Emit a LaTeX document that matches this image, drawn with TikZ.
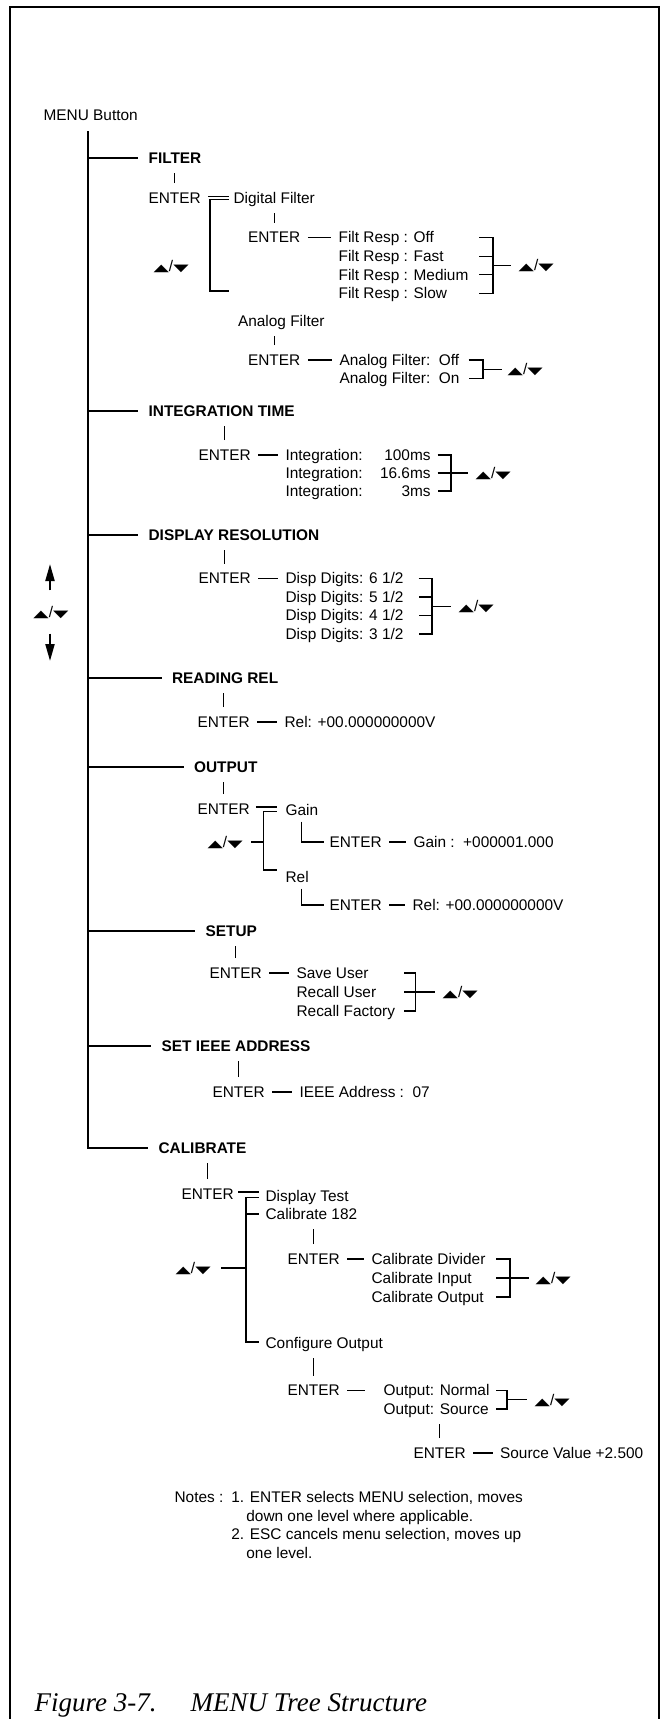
\documentclass[tikz,border=0pt]{standalone}
\usepackage{fontspec}
\setmainfont{Liberation Sans}
\newfontfamily\symfont{DejaVu Sans}
\newfontfamily\capfont{Liberation Serif}
\usepackage{graphicx}
\usetikzlibrary{arrows.meta, positioning, calc}
\newcommand{\updn}{{\symfont\scalebox{1.3}[0.65]{▲}}/{\symfont\scalebox{1.3}[0.65]{▼}}}

\begin{document}
\begin{tikzpicture}[x=1pt, y=-1pt, line width=1.2pt,
  item/.style={anchor=west, inner sep=0pt, text height=10.8pt, text depth=0pt, font=\fontsize{15.4}{18.7}\selectfont},
  menuhead/.style={item, font=\fontsize{15.4}{18.7}\selectfont\bfseries},
  notes/.style={anchor=base west, inner sep=0pt, font=\fontsize{15.4}{18.7}\selectfont},
  capt/.style={anchor=base west, inner sep=0pt, font=\capfont\itshape\fontsize{27}{30}\selectfont},
  vtick/.style={shorten <=9pt, shorten >=9pt},
  link/.style={shorten <=7pt, shorten >=7pt},
  border/.style={line width=2pt},
  updown/.style={-{Triangle[length=17pt, width=9pt]}, line width=2pt}
]
  \useasboundingbox (0,0) rectangle (665,1719);
  \draw[border] (10,1725) |- (659,7) -- (659,1725);

  \node[item] (menu) at (43,115) {MENU Button};
  \coordinate (trunk) at (88,131);

  \node[menuhead] (filt) at (148,158) {FILTER};
  \node[item] (e1) at (148,198) {ENTER};
  \node[item] (dfilt) at (233,198) {Digital Filter};
  \node[item] (ud1) at (153,266) {\updn};
  \node[item] (e2) at (247.5,237.5) {ENTER};
  \node[item] (fr1) at (338,237.5) {Filt Resp : Off};
  \node[item] (fr2) at (338,256.1) {Filt Resp : Fast};
  \node[item] (fr3) at (338,274.7) {Filt Resp : Medium};
  \node[item] (fr4) at (338,293.3) {Filt Resp : Slow};
  \node[item] (ud2) at (518,265.4) {\updn};
  \node[item] (afilt) at (237.5,321) {Analog Filter};
  \node[item] (e3) at (247.5,360) {ENTER};
  \node[item] (af1) at (339,360) {Analog Filter:\ \ Off};
  \node[item] (af2) at (339,378.5) {Analog Filter:\ \ On};
  \node[item] (ud3) at (507,369.2) {\updn};

  \node[menuhead] (integ) at (148,411) {INTEGRATION TIME};
  \node[item] (e4) at (198,455) {ENTER};
  \node[item] (it1) at (285,455) {\makebox[145pt][l]{Integration:\hfill 100ms}};
  \node[item] (it2) at (285,473) {\makebox[145pt][l]{Integration:\hfill 16.6ms}};
  \node[item] (it3) at (285,491) {\makebox[145pt][l]{Integration:\hfill 3ms}};
  \node[item] (udi) at (475,473) {\updn};

  \node[menuhead] (disp) at (148,535) {DISPLAY RESOLUTION};
  \node[item] (e5) at (198,578.5) {ENTER};
  \node[item] (dd1) at (285,578.5) {Disp Digits: 6 1/2};
  \node[item] (dd2) at (285,597) {Disp Digits: 5 1/2};
  \node[item] (dd3) at (285,615.5) {Disp Digits: 4 1/2};
  \node[item] (dd4) at (285,634) {Disp Digits: 3 1/2};
  \node[item] (udd) at (458,606.2) {\updn};

  \node[item, anchor=center] (udl) at (51,612) {\updn};
  \coordinate (upt) at (50,564);
  \coordinate (dnt) at (50,661);

  \node[menuhead] (rel) at (171.5,678) {READING REL};
  \node[item] (e6) at (197,722) {ENTER};
  \node[item] (relv) at (284,722) {Rel: +00.000000000V};

  \node[menuhead] (outp) at (193.5,767) {OUTPUT};
  \node[item] (e7) at (197,809) {ENTER};
  \node[item] (gain) at (285,810) {Gain};
  \node[item] (udo) at (207,842) {\updn};
  \node[item] (e8) at (329,842) {ENTER};
  \node[item] (gv) at (413,842) {Gain :\ \ +000001.000};
  \node[item] (relo) at (285,877) {Rel};
  \node[item] (e9) at (329,905) {ENTER};
  \node[item] (rv) at (412,905) {Rel: +00.000000000V};

  \node[menuhead] (setup) at (205,931) {SETUP};
  \node[item] (e10) at (209,973) {ENTER};
  \node[item] (su1) at (296,973) {Save User};
  \node[item] (su2) at (296,992) {Recall User};
  \node[item] (su3) at (296,1011) {Recall Factory};
  \node[item] (uds) at (442,992) {\updn};

  \node[menuhead] (ieee) at (161,1046) {SET IEEE ADDRESS};
  \node[item] (e11) at (212,1092) {ENTER};
  \node[item] (ia) at (299,1092) {IEEE Address :\ \ 07};

  \node[menuhead] (cal) at (158,1148) {CALIBRATE};
  \node[item] (e12) at (181,1194) {ENTER};
  \node[item] (dtest) at (265,1196) {Display Test};
  \node[item] (c182) at (265,1214) {Calibrate 182};
  \node[item] (udc) at (175,1268) {\updn};
  \node[item] (e13) at (287,1259) {ENTER};
  \node[item] (cd1) at (371,1259) {Calibrate Divider};
  \node[item] (cd2) at (371,1278) {Calibrate Input};
  \node[item] (cd3) at (371,1297) {Calibrate Output};
  \node[item] (udc2) at (535,1278) {\updn};
  \node[item] (cout) at (265,1343) {Configure Output};
  \node[item] (e14) at (287,1390.5) {ENTER};
  \node[item] (on1) at (383,1390.5) {Output: Normal};
  \node[item] (on2) at (383,1409) {Output: Source};
  \node[item] (udn) at (534,1399.8) {\updn};
  \node[item] (e15) at (413,1453) {ENTER};
  \node[item] (sv) at (499.5,1453) {Source Value +2.500};

  \node[notes] (note) at (174,1502.4) {\begin{tabular}[t]{@{}l@{\hspace{8pt}}l@{}}
    Notes : & 1. ENTER selects MENU selection, moves\\
            & \hspace{15pt}down one level where applicable.\\
            & 2. ESC cancels menu selection, moves up\\
            & \hspace{15pt}one level.
  \end{tabular}};

  \node[capt] (figno) at (34,1711) {Figure 3-7.};
  \node[capt] (figttl) at (190,1711) {MENU Tree Structure};

  \draw[shorten >=10pt] (trunk) |- (cal.west);
  \foreach \n in {filt,integ,disp,rel,outp,setup,ieee}
    \draw[shorten >=10pt] (trunk |- \n.west) -- (\n.west);

  \foreach \e/\p in {e1/filt, e2/dfilt, e3/afilt, e4/integ, e5/disp, e6/rel, e7/outp,
                     e10/setup, e11/ieee, e12/cal, e13/c182, e14/cout, e15/on2}
    \draw[vtick] (\e.north) -- (\e.north |- \p.south);

  \foreach \e/\p in {e2/fr1, e3/af1, e4/it1, e5/dd1, e6/relv, e8/gv, e9/rv,
                     e10/su1, e11/ia, e13/cd1, e15/sv}
    \draw[link] (\e.east) -- (\p.west);
  \draw[shorten <=7pt, shorten >=18pt] (e14.east) -- (on1.west);

  \draw[shorten <=7pt, shorten >=4pt] ([yshift=1.5pt]e1.east) -- ([yshift=1.5pt]dfilt.west);
  \coordinate (fb) at (210,291);
  \draw ([xshift=-4pt,yshift=-1.5pt]dfilt.west) -| (fb) -- ++(19,0);

  \draw[shorten <=5.5pt, shorten >=8.5pt] ([yshift=2pt]e7.east) -- ([yshift=2pt]e7.east -| gain.west);
  \coordinate (ob) at (263.5,870);
  \draw ([xshift=-8.5pt,yshift=-1.5pt]gain.west) -| (ob) -- ++(13,0);
  \draw[shorten <=8pt] (udo.east) -- (udo.east -| ob);
  \draw[shorten <=5.5pt, shorten >=5.5pt] (gain.south) |- (e8.west);
  \draw[shorten <=5.5pt, shorten >=5.5pt] (relo.south -| gain.south) |- (e9.west);

  \draw[shorten <=4pt] ([yshift=2pt]e12.east) -- ([yshift=2pt,xshift=-6.5pt]e12.east -| dtest.west);
  \coordinate (cb) at (246,1342);
  \draw ([xshift=-6.5pt,yshift=-1.5pt]dtest.west) -| (cb) -- ++(12.5,0);
  \draw[shorten >=6.5pt] (c182.west -| cb) -- (c182.west);
  \draw[shorten <=10pt] (udc.east) -- (udc.east -| cb);

  \coordinate (bfr) at (493,0);
  \draw (fr1.west -| bfr) ++(-14,0) -- (fr1.west -| bfr) -- (fr4.west -| bfr) -- ++(-14,0);
  \foreach \n in {fr2,fr3} \draw (\n.west -| bfr) -- ++(-14,0);
  \draw[shorten >=7pt] (ud2.west -| bfr) -- (ud2.west);

  \coordinate (baf) at (483,0);
  \draw (af1.west -| baf) ++(-14.5,0) -- (af1.west -| baf) -- (af2.west -| baf) -- ++(-14.5,0);
  \draw[shorten >=5pt] (ud3.west -| baf) -- (ud3.west);

  \coordinate (bit) at (451,0);
  \draw (it1.west -| bit) ++(-13.5,0) -- (it1.west -| bit) -- (it3.west -| bit) -- ++(-13.5,0);
  \draw[shorten >=7pt] ([xshift=-13.5pt]it2.west -| bit) -- (udi.west);

  \coordinate (bdd) at (432,0);
  \draw (dd1.west -| bdd) ++(-13.5,0) -- (dd1.west -| bdd) -- (dd4.west -| bdd) -- ++(-13.5,0);
  \foreach \n in {dd2,dd3} \draw (\n.west -| bdd) -- ++(-13.5,0);
  \draw[shorten >=7pt] (udd.west -| bdd) -- (udd.west);

  \coordinate (bsu) at (415.5,0);
  \draw (su1.west -| bsu) ++(-11.5,0) -- (su1.west -| bsu) -- (su3.west -| bsu) -- ++(-11.5,0);
  \draw[shorten >=7pt] ([xshift=-11.5pt]su2.west -| bsu) -- (uds.west);

  \coordinate (bcd) at (510,0);
  \draw (cd1.west -| bcd) ++(-14,0) -- (cd1.west -| bcd) -- (cd3.west -| bcd) -- ++(-14,0);
  \draw[shorten >=6pt] ([xshift=-14pt]cd2.west -| bcd) -- (udc2.west);

  \coordinate (bon) at (507,0);
  \draw (on1.west -| bon) ++(-11,0) -- (on1.west -| bon) -- (on2.west -| bon) -- ++(-11,0);
  \draw[shorten >=7pt] (udn.west -| bon) -- (udn.west);

  \draw[updown, shorten <=15.6pt] (udl.north -| upt) -- (upt);
  \draw[updown, shorten <=15.6pt] (udl.south -| dnt) -- (dnt);
\end{tikzpicture}
\end{document}
